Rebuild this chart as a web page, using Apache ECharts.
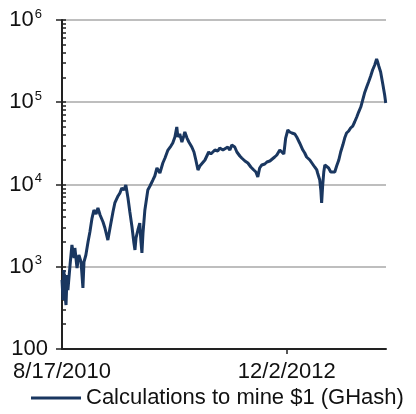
<!DOCTYPE html>
<html>
<head>
<meta charset="utf-8">
<script src="https://cdn.jsdelivr.net/npm/echarts@6/dist/echarts.min.js"></script>
<style>html,body{margin:0;padding:0;background:#fff}#c{width:416px;height:414px}</style>
</head>
<body>
<div id="c"></div>
<script>
// Days since 8/17/2010 for each observation
const dayOffsets = [0,4,7,11,15,19,22,30,37,45,48,56,63,71,78,82,89,97,104,112,119,127,134,142,153,160,171,179,190,197,209,216,223,231,238,246,253,261,268,272,276,283,290,294,298,302,309,320,328,339,346,354,365,376,384,395,406,413,421,428,432,439,447,454,458,466,473,484,492,499,507,514,521,533,540,547,555,562,570,581,588,600,607,618,626,633,644,652,663,670,682,693,704,715,723,730,737,745,756,764,775,782,793,801,812,819,827,834,842,849,857,868,875,886,898,905,912,924,931,942,950,953,961,965,968,972,976,980,987,994,1002,1009,1017,1024,1032,1039,1047,1054,1061,1069,1076,1084,1091,1099,1106,1114,1121,1128,1136,1143,1151,1158,1166,1173,1177,1181,1188,1196,1203,1207];
// Calculations to mine $1 (GHash)
const ghashPerDollar = [690,394,912,454,343,794,521,1050,1840,1277,1690,966,1390,1143,552,1143,1390,2000,2640,3910,4900,4380,5180,4260,3500,2960,2110,2960,4630,5960,7250,7890,9060,8570,9860,6860,4630,3040,1950,1600,2240,2800,3400,2110,1470,2570,4900,8570,9590,11350,12690,15870,13800,18250,21000,26250,29360,31970,37840,50050,37840,41140,32870,38910,43480,36740,32870,28560,24830,19860,15010,16790,16330,19860,21000,24830,23490,24830,26250,25530,27800,26250,27040,28560,26250,30200,28560,24830,22220,21000,19310,18250,16330,15010,14190,12330,15870,17270,17760,18790,19310,19860,21590,22840,26250,24830,23490,36740,46000,43480,42270,41140,37840,31970,26250,24150,21590,19860,18790,16330,15010,13800,11350,8570,5960,9860,14190,17270,16790,15870,14190,13420,14190,16790,19860,24830,30200,36740,42270,44700,48640,51400,57540,66220,76030,87500,106400,129400,153100,176200,208400,246600,283800,335700,308300,276100,233300,166700,122500,97940];
const xTickDays = [0, 838];
const xTickLabels = ['8/17/2010', '12/2/2012'];
const xMaxDay = 1208;
const yTicks = [100, 1000, 10000, 100000, 1000000];
const yTickLabels = ['100', '10{sup|3}', '10{sup|4}', '10{sup|5}', '10{sup|6}'];
const seriesName = 'Calculations to mine $1 (GHash)';

const data = dayOffsets.map((d, i) => [d, ghashPerDollar[i]]);

const minorTicks = [];
for (let e = 2; e < 6; e++) for (let k = 2; k <= 9; k++) minorTicks.push(k * Math.pow(10, e));

const FONT = '"Liberation Sans", Arial, sans-serif';
const chart = echarts.init(document.getElementById('c'), null, {renderer: 'canvas'});
chart.setOption({
  animation: false,
  backgroundColor: '#fff',
  grid: {left: 62, right: 30, top: 20, bottom: 65, containLabel: false},
  legend: {
    data: [seriesName], left: 31, top: 387, icon: 'rect', itemWidth: 50, itemHeight: 3,
    itemGap: 4, padding: 0,
    textStyle: {fontFamily: FONT, fontSize: 22, color: '#111'}
  },
  xAxis: {
    type: 'value', min: 0, max: xMaxDay,
    axisLine: {show: true, lineStyle: {color: '#222', width: 2}},
    axisTick: {show: true, customValues: xTickDays.slice(1), length: 5, lineStyle: {color: '#222', width: 1.5}},
    axisLabel: {
      customValues: xTickDays, margin: 12, fontFamily: FONT, fontSize: 22, color: '#111',
      formatter: v => { const i = xTickDays.indexOf(v); return i >= 0 ? xTickLabels[i] : ''; }
    },
    splitLine: {show: false}
  },
  yAxis: [{
    type: 'log', logBase: 10, min: 100, max: 1000000,
    axisLine: {show: true, lineStyle: {color: '#222', width: 2}},
    axisTick: {show: true, length: 6, lineStyle: {color: '#222', width: 1.5}},
    axisLabel: {
      margin: 14, fontFamily: FONT, fontSize: 22, color: '#111',
      formatter: v => { const i = yTicks.findIndex(t => Math.abs(t - v) / t < 1e-6); return i >= 0 ? yTickLabels[i] : ''; },
      rich: {sup: {fontFamily: FONT, fontSize: 13, color: '#111', padding: [0, 6, 12, 1]}}
    },
    splitLine: {show: true, lineStyle: {color: '#a8a8a8', width: 1.5}}
  }, {
    type: 'log', logBase: 10, min: 100, max: 1000000, position: 'left',
    axisLine: {show: false},
    axisTick: {show: true, inside: true, customValues: minorTicks.concat(yTicks), length: 4, lineStyle: {color: '#222', width: 1.5}},
    axisLabel: {show: false},
    splitLine: {show: false}
  }],
  series: [{
    name: seriesName, type: 'line', data: data, symbol: 'none', yAxisIndex: 0,
    lineStyle: {color: '#1a3760', width: 3}, itemStyle: {color: '#1a3760'}
  }]
});
</script>
</body>
</html>
